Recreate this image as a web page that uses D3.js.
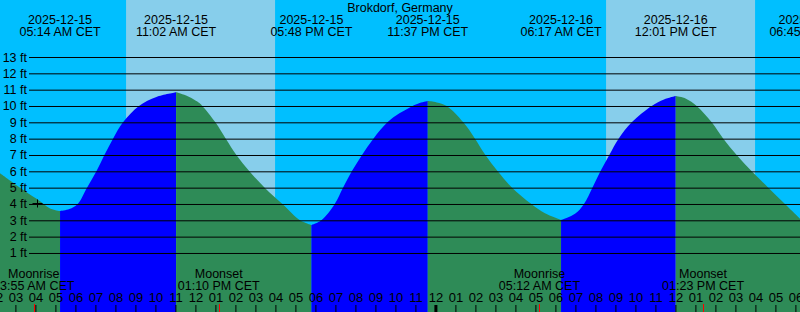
<!DOCTYPE html>
<html lang="en">
<head>
<meta charset="UTF-8">
<title>Brokdorf tides</title>
<script src="https://cdn.jsdelivr.net/npm/d3@7"></script>
<style>
  body { margin: 0; background: #fff; }
  svg { display: block; font-family: "Liberation Sans", Arial, sans-serif; }
</style>
</head>
<body>
<script>
// chart values
var place = "Brokdorf, Germany";

// tide turning points (low / high)
var tideDates = ["2025-12-15", "2025-12-15", "2025-12-15", "2025-12-15", "2025-12-16", "2025-12-16", "2025-12-16"];
var tideClock = ["05:14 AM", "11:02 AM", "05:48 PM", "11:37 PM", "06:17 AM", "12:01 PM", "06:45 PM"];
var tideKind  = ["low", "high", "low", "high", "low", "high", "low"];

// water level: hours after 2025-12-15 00:00 CET, and feet
var levelHours = [2.23, 3.23, 4.08, 4.73, 5.233,
  5.7, 6.115, 6.58, 7.05, 7.45, 7.88, 8.38, 9.18, 10.05, 11.033,
  11.615, 12.215, 12.35, 13.0, 13.52, 14.05, 14.7, 15.465, 16.35, 17.23, 17.8,
  18.3, 18.965, 19.38, 19.82, 20.33, 20.9, 21.6, 22.2, 22.7, 23.15, 23.617,
  24.065, 24.565, 25.395, 25.98, 26.5, 27.115, 27.83, 28.8, 29.48, 30.283,
  30.98, 31.43, 31.85, 32.25, 32.695, 33.16, 33.815, 34.815, 35.43, 36.017,
  36.53, 37.065, 37.815, 38.395, 39.065, 39.815, 40.645, 41.48, 42.23];
var levelFeet = [5.88, 5.0, 4.3, 3.73, 3.57,
  3.69, 4.0, 5.0, 6.0, 7.0, 8.0, 9.0, 10.0, 10.55, 10.84,
  10.6, 10.17, 10.0, 9.0, 8.0, 7.0, 6.0, 5.0, 4.0, 3.0, 2.71,
  3.0, 4.0, 5.0, 6.0, 7.0, 8.0, 9.0, 9.55, 9.9, 10.15, 10.3,
  10.22, 10.0, 9.0, 8.0, 7.0, 6.0, 5.0, 4.0, 3.43, 3.02,
  3.4, 4.0, 5.0, 6.0, 7.0, 8.0, 9.0, 10.0, 10.4, 10.61,
  10.45, 10.0, 9.0, 8.0, 7.0, 6.0, 5.0, 4.0, 3.1];

// daylight
var sunDates = ["2025-12-15", "2025-12-16"];
var sunrise  = ["08:32 AM", "08:32 AM"];
var sunset   = ["03:59 PM", "03:59 PM"];

// moon
var moonLabel = ["Moonrise", "Moonset", "Moonrise", "Moonset"];
var moonDates = ["2025-12-15", "2025-12-15", "2025-12-16", "2025-12-16"];
var moonClock = ["03:55 AM", "01:10 PM", "05:12 AM", "01:23 PM"];

// current position marker
var nowHour = 4.1, nowFeet = 4.05;

var feetTicks = [1, 2, 3, 4, 5, 6, 7, 8, 9, 10, 11, 12, 13];
var hourTicks = d3.range(2, 43);

// ---------------------------------------------------------------
var w = 800, h = 312;
var night = "#00bfff", day = "#87ceeb", rising = "#0000ff", falling = "#2e8b57";

// "2025-12-16","05:12 AM" -> hours after 2025-12-15 00:00
function toHours(date, clock) {
  var dayOff = (+date.slice(8, 10) - 15) * 24;
  var hh = +clock.slice(0, 2) % 12, mm = +clock.slice(3, 5);
  if (clock.slice(-2) == "PM") hh += 12;
  return dayOff + hh + mm / 60;
}

var x = d3.scaleLinear().domain([2.23, 42.23]).range([0, w]);
var y = d3.scaleLinear().domain([0, 13]).range([269.3, 57]);

var svg = d3.select("body").append("svg")
  .attr("width", w).attr("height", h);

// night background + daylight bands
svg.append("rect").attr("width", w).attr("height", h).attr("fill", night);
svg.selectAll("rect.day")
  .data(sunDates)
  .enter().append("rect")
  .attr("class", "day")
  .attr("x", function(d, i) { return x(toHours(d, sunrise[i])); })
  .attr("width", function(d, i) { return x(toHours(d, sunset[i])) - x(toHours(d, sunrise[i])); })
  .attr("y", 0).attr("height", h)
  .attr("fill", day);

// split the level series at every turning point
var eventHours = tideDates.map(function(d, i) { return toHours(d, tideClock[i]); });
var segments = [], cur = [];
levelHours.forEach(function(t, i) {
  var p = [t, levelFeet[i]];
  cur.push(p);
  var k = eventHours.findIndex(function(e) { return Math.abs(e - t) < 0.02; });
  if (k >= 0 && cur.length > 1) {
    segments.push({ pts: cur, up: tideKind[k] == "high" });
    cur = [p];
  }
});
if (cur.length > 1) {
  var nxt = eventHours.findIndex(function(e) { return e > cur[0][0] + 0.02; });
  segments.push({ pts: cur, up: tideKind[nxt] == "high" });
}

var area = d3.area()
  .x(function(d) { return x(d[0]); })
  .y0(h)
  .y1(function(d) { return y(d[1]); })
  .curve(d3.curveCatmullRom.alpha(0.5));

svg.selectAll("path.tide")
  .data(segments)
  .enter().append("path")
  .attr("class", "tide")
  .attr("d", function(d) { return area(d.pts); })
  .attr("fill", function(d) { return d.up ? rising : falling; });

// feet grid lines and labels
var yAxis = svg.append("g")
  .attr("transform", "translate(29,0)")
  .call(d3.axisLeft(y).tickValues(feetTicks).tickSize(-(w - 29)).tickPadding(2)
    .tickFormat(function(d) { return d + " ft"; }));
yAxis.select(".domain").remove();
yAxis.selectAll("line").attr("stroke", "#000");
yAxis.selectAll("text").attr("font-size", 12.5).attr("font-family", "Liberation Sans, Arial, sans-serif")
  .attr("fill", "#000");

// now marker
var mx = Math.round(x(nowHour)) + 0.5, my = Math.round(y(nowFeet)) + 0.5;
svg.append("path")
  .attr("d", "M" + (mx - 5) + "," + my + "H" + (mx + 5) + "M" + mx + "," + (my - 4) + "V" + (my + 4))
  .attr("stroke", "#000").attr("fill", "none");

// header
svg.append("text")
  .attr("x", w / 2).attr("y", 12)
  .attr("text-anchor", "middle").attr("font-size", 12.5)
  .text(place);

var tl = svg.selectAll("g.tidelabel")
  .data(tideDates)
  .enter().append("g")
  .attr("class", "tidelabel")
  .attr("transform", function(d, i) { return "translate(" + x(eventHours[i]) + ",0)"; })
  .attr("text-anchor", "middle").attr("font-size", 12.5);
tl.append("text").attr("y", 24).text(function(d) { return d; });
tl.append("text").attr("y", 36).text(function(d, i) { return tideClock[i] + " CET"; });

// hour axis at the bottom
var xAxis = svg.append("g")
  .attr("transform", "translate(0," + h + ")")
  .call(d3.axisTop(x).tickValues(hourTicks).tickSize(7).tickPadding(3)
    .tickFormat(function(d) { return d3.format("02")((d % 12) || 12); }));
xAxis.select(".domain").remove();
xAxis.selectAll("line").attr("stroke", "#000")
  .attr("stroke-width", function(d) { return d % 24 == 0 ? 3 : 1; });
xAxis.selectAll("text").attr("font-size", 13).attr("fill", "#000")
  .attr("font-family", "Liberation Sans, Arial, sans-serif");

// moon events
var moonHours = moonDates.map(function(d, i) { return toHours(d, moonClock[i]); });
svg.selectAll("line.moon")
  .data(moonHours)
  .enter().append("line")
  .attr("class", "moon")
  .attr("x1", function(d) { return Math.round(x(d)) + 0.5; })
  .attr("x2", function(d) { return Math.round(x(d)) + 0.5; })
  .attr("y1", h - 8).attr("y2", h)
  .attr("stroke", "#ff0000");

var ml = svg.selectAll("g.moonlabel")
  .data(moonLabel)
  .enter().append("g")
  .attr("class", "moonlabel")
  .attr("transform", function(d, i) { return "translate(" + x(moonHours[i]) + ",0)"; })
  .attr("text-anchor", "middle").attr("font-size", 12.5);
ml.append("text").attr("y", 278).text(function(d) { return d; });
ml.append("text").attr("y", 290).text(function(d, i) { return moonClock[i] + " CET"; });
</script>
</body>
</html>
